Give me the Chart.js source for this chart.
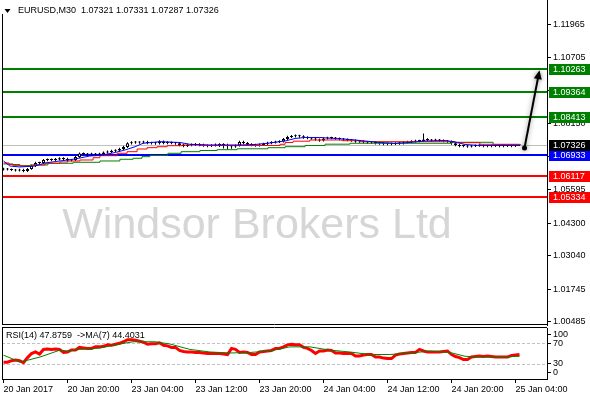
<!DOCTYPE html>
<html>
<head>
<meta charset="utf-8">
<script src="https://cdn.jsdelivr.net/npm/chart.js@4.4.1/dist/chart.umd.min.js"></script>
<style>
  html, body { margin: 0; padding: 0; background: #fff; }
  #wrap { position: relative; width: 590px; height: 400px; overflow: hidden; }
  canvas { position: absolute; left: 0; }
  #main { top: 0; }
  #osc { top: 326px; }
</style>
</head>
<body>
<div id="wrap">
  <canvas id="main" width="590" height="326"></canvas>
  <canvas id="osc" width="590" height="74"></canvas>
</div>
<script>
// EURUSD M30, 20 Jan 2017 12:00 -> 25 Jan 2017 04:30 (one entry per bar)
const symbolInfo = "EURUSD,M30  1.07321 1.07331 1.07287 1.07326";
const rsiInfo = "RSI(14) 47.8759  ->MA(7) 44.4031";
const watermark = "Windsor Brokers Ltd";

const timeTicks = [0, 16, 32, 48, 64, 80, 96, 112, 128];
const timeLabels = ["20 Jan 2017", "20 Jan 20:00", "23 Jan 04:00", "23 Jan 12:00", "23 Jan 20:00",
  "24 Jan 04:00", "24 Jan 12:00", "24 Jan 20:00", "25 Jan 04:00"];
const priceTicks = [1.11965, 1.10705, 1.09420, 1.08150, 1.06885, 1.05595, 1.04300, 1.03040, 1.01745, 1.00485];

const open = [1.0638,1.0640,1.0638,1.0636,1.0634,1.0636,1.0632,1.0640,1.0652,1.0663,
  1.0663,1.0675,1.0675,1.0675,1.0677,1.0681,1.0679,1.0673,1.0675,1.0686,
  1.0700,1.0698,1.0696,1.0698,1.0696,1.0698,1.0704,1.0706,1.0710,1.0711,
  1.0717,1.0725,1.0739,1.0742,1.0742,1.0742,1.0744,1.0740,1.0740,1.0739,
  1.0746,1.0740,1.0742,1.0740,1.0739,1.0733,1.0729,1.0733,1.0733,1.0735,
  1.0733,1.0731,1.0729,1.0731,1.0733,1.0735,1.0733,1.0729,1.0727,1.0731,
  1.0744,1.0740,1.0735,1.0733,1.0731,1.0733,1.0737,1.0740,1.0742,1.0744,
  1.0746,1.0756,1.0764,1.0766,1.0768,1.0766,1.0762,1.0760,1.0758,1.0754,
  1.0750,1.0758,1.0760,1.0760,1.0758,1.0756,1.0754,1.0752,1.0750,1.0746,
  1.0746,1.0744,1.0742,1.0742,1.0740,1.0739,1.0737,1.0737,1.0737,1.0739,
  1.0739,1.0742,1.0744,1.0746,1.0748,1.0748,1.0754,1.0752,1.0750,1.0752,
  1.0750,1.0748,1.0746,1.0739,1.0733,1.0729,1.0729,1.0727,1.0729,1.0731,
  1.0731,1.0729,1.0729,1.0729,1.0731,1.0729,1.0729,1.0731,1.0729,1.07321];
const high = [1.0645,1.0644,1.0642,1.0640,1.0641,1.0641,1.0644,1.0656,1.0668,1.0668,
  1.0679,1.0680,1.0680,1.0682,1.0685,1.0685,1.0683,1.0679,1.0690,1.0704,
  1.0704,1.0702,1.0703,1.0702,1.0703,1.0708,1.0711,1.0714,1.0716,1.0722,
  1.0730,1.0743,1.0747,1.0748,1.0747,1.0749,1.0749,1.0745,1.0744,1.0751,
  1.0750,1.0747,1.0746,1.0744,1.0743,1.0737,1.0737,1.0738,1.0740,1.0739,
  1.0737,1.0735,1.0736,1.0738,1.0739,1.0739,1.0737,1.0733,1.0735,1.0749,
  1.0749,1.0744,1.0739,1.0737,1.0738,1.0741,1.0745,1.0747,1.0749,1.0751,
  1.0760,1.0768,1.0771,1.0773,1.0772,1.0770,1.0766,1.0764,1.0762,1.0758,
  1.0762,1.0765,1.0765,1.0764,1.0762,1.0760,1.0758,1.0756,1.0754,1.0751,
  1.0750,1.0748,1.0747,1.0746,1.0744,1.0743,1.0742,1.0742,1.0743,1.0744,
  1.0747,1.0749,1.0751,1.0753,1.0753,1.0777,1.0759,1.0756,1.0757,1.0756,
  1.0754,1.0752,1.0750,1.0743,1.0737,1.0734,1.0733,1.0733,1.0735,1.0736,
  1.0735,1.0734,1.0734,1.0735,1.0735,1.0734,1.0735,1.0735,1.0736,1.07331];
const low = [1.0634,1.0634,1.0632,1.0630,1.0630,1.0627,1.0628,1.0637,1.0648,1.0658,
  1.0659,1.0670,1.0670,1.0671,1.0673,1.0674,1.0668,1.0669,1.0671,1.0682,
  1.0693,1.0691,1.0692,1.0691,1.0692,1.0694,1.0700,1.0702,1.0706,1.0707,
  1.0713,1.0721,1.0735,1.0737,1.0737,1.0738,1.0736,1.0735,1.0734,1.0735,
  1.0736,1.0736,1.0736,1.0734,1.0728,1.0724,1.0725,1.0728,1.0729,1.0728,
  1.0726,1.0724,1.0725,1.0727,1.0725,1.0719,1.0715,1.0718,1.0722,1.0727,
  1.0736,1.0730,1.0728,1.0726,1.0727,1.0729,1.0733,1.0736,1.0738,1.0740,
  1.0742,1.0752,1.0760,1.0762,1.0761,1.0757,1.0755,1.0753,1.0749,1.0745,
  1.0746,1.0754,1.0755,1.0753,1.0751,1.0749,1.0747,1.0745,1.0741,1.0741,
  1.0739,1.0737,1.0737,1.0735,1.0734,1.0732,1.0732,1.0732,1.0733,1.0734,
  1.0735,1.0738,1.0740,1.0742,1.0743,1.0744,1.0747,1.0745,1.0746,1.0745,
  1.0743,1.0741,1.0734,1.0728,1.0724,1.0724,1.0722,1.0723,1.0725,1.0726,
  1.0724,1.0724,1.0724,1.0725,1.0724,1.0724,1.0725,1.0724,1.0725,1.07287];
const close = [1.0640,1.0638,1.0636,1.0634,1.0636,1.0632,1.0640,1.0652,1.0663,1.0663,
  1.0675,1.0675,1.0675,1.0677,1.0681,1.0679,1.0673,1.0675,1.0686,1.0700,
  1.0698,1.0696,1.0698,1.0696,1.0698,1.0704,1.0706,1.0710,1.0711,1.0717,
  1.0725,1.0739,1.0742,1.0742,1.0742,1.0744,1.0740,1.0740,1.0739,1.0746,
  1.0740,1.0742,1.0740,1.0739,1.0733,1.0729,1.0733,1.0733,1.0735,1.0733,
  1.0731,1.0729,1.0731,1.0733,1.0735,1.0733,1.0729,1.0727,1.0731,1.0744,
  1.0740,1.0735,1.0733,1.0731,1.0733,1.0737,1.0740,1.0742,1.0744,1.0746,
  1.0756,1.0764,1.0766,1.0768,1.0766,1.0762,1.0760,1.0758,1.0754,1.0750,
  1.0758,1.0760,1.0760,1.0758,1.0756,1.0754,1.0752,1.0750,1.0746,1.0746,
  1.0744,1.0742,1.0742,1.0740,1.0739,1.0737,1.0737,1.0737,1.0739,1.0739,
  1.0742,1.0744,1.0746,1.0748,1.0748,1.0754,1.0752,1.0750,1.0752,1.0750,
  1.0748,1.0746,1.0739,1.0733,1.0729,1.0729,1.0727,1.0729,1.0731,1.0731,
  1.0729,1.0729,1.0729,1.0731,1.0729,1.0729,1.0731,1.0729,1.0731,1.07326];

// moving averages (bar index, price)
const blueIdx = [0,1.6,4.1,7.9,10.4,14.1,17.9,21.6,24.1,27.9,30.4,32.9,34.9,39.1,44.1,46.6,51.6,59.1,
  62.9,66.6,70.4,72.9,75.4,79.1,82.9,86.6,90.4,94.1,97.9,101.6,105.4,110.4,112.9,115.4,119.1,129];
const blueVal = [1.06709,1.06515,1.06477,1.06515,1.06631,1.06709,1.06786,1.06902,1.06921,1.07037,
  1.07134,1.07261,1.07393,1.07455,1.07424,1.07354,1.07327,1.07327,1.07346,1.07404,
  1.07482,1.07578,1.07617,1.07617,1.07578,1.07540,1.07482,1.07424,1.07385,1.07424,
  1.07482,1.07501,1.07443,1.07346,1.07308,1.07308];
const redIdx = [0,1.4,4.1,7.4,10.4,14.1,16.1,19.1,22.4,24.1,28.4,30.9,33.4,35.9,38.4,40.9,44.6,49.1,
  69.1,70.4,72.4,76.6,84.6,89.1,112.9,119.1,129];
const redVal = [1.06631,1.06573,1.06515,1.06554,1.06620,1.06670,1.06709,1.06747,1.06836,1.06913,
  1.07006,1.07068,1.07172,1.07223,1.07261,1.07300,1.07327,1.07308,1.07354,1.07424,
  1.07474,1.07520,1.07493,1.07455,1.07416,1.07354,1.07354];
const greenIdx = [0,2.4,6.6,11.1,17.4,24.1,29.1,32.4,34.6,36.6,41.1,44.4,49.1,53.4,58.4,66.1,70.4,
  75.4,80.4,86.6,112.1,122.4,129];
const greenVal = [1.06593,1.06527,1.06554,1.06620,1.06658,1.06709,1.06774,1.06813,1.06875,1.06921,
  1.07006,1.07068,1.07114,1.07145,1.07180,1.07223,1.07261,1.07308,1.07358,1.07393,
  1.07431,1.07346,1.07346];

const levels = [1.10263, 1.09364, 1.08413, 1.06933, 1.06117, 1.05334];
const levelColors = ["#008000", "#008000", "#008000", "#0000ff", "#ff0000", "#ff0000"];
const lastPrice = 1.07326;
const arrowFrom = [130.25, 1.0721];
const arrowTo = [134, 1.1022];

const rsi = [33,33,36,37,36,32,42,50,53,49,
  58,59,58,59,58,52,53,57,57,62,
  61,60,60,63,63,64,67,66,68,70,
  73,77,77,76,74,72,68,69,69,71,
  66,65,62,62,56,54,53,53,52,52,
  51,50,50,50,50,49,48,60,58,52,
  53,52,48,48,53,54,55,56,60,60,
  63,67,68,67,67,62,60,56,50,55,
  55,57,56,51,51,50,50,50,45,45,
  47,48,48,43,43,41,40,40,47,49,
  50,51,52,52,58,55,53,53,53,53,
  54,55,48,44,42,38,38,43,44,45,
  44,45,44,43,43,43,43,46,47,47.8759];
const rsiMaIdx = [0,2.1,4.1,9.1,14.1,15.9,19.1,24.1,29.1,32.4,37.9,41.6,46.6,51.6,56.6,61.6,66.6,
  71.6,76.6,81.6,86.6,91.6,96.6,101.6,106.6,111.6,115.4,119.1,129];
const rsiMaVal = [46.6,40,33,43,56.6,55,58,60.6,68.6,73,73,68.6,58,53,51,52,55,
  63,63,56.6,53,48,48,51,54.6,52,44.6,43,44.4031];
const rsiLevels = [70, 30];
const rsiTicks = [13, 30, 70, 88];
const rsiTickLabels = ["0", "30", "70", "100"];

const FONT = "'Liberation Sans', Arial, sans-serif";
Chart.defaults.font.family = FONT;
Chart.defaults.font.size = 9;
Chart.defaults.color = "#000";

const pts = (xs, ys) => xs.map((x, i) => ({x: x, y: ys[i]}));
const bodyColors = close.map((c, i) => (c >= open[i] ? "#ffffff" : "#000000"));

const mainDecor = {
  id: "mainDecor",
  beforeDatasetsDraw(chart) {
    const {ctx, chartArea: a, scales: {y}} = chart;
    ctx.save();
    ctx.beginPath();
    ctx.rect(a.left, a.top, a.right - a.left, a.bottom - a.top);
    ctx.clip();
    ctx.fillStyle = "#d6d6d6";
    ctx.font = "43px " + FONT;
    ctx.textAlign = "center";
    ctx.textBaseline = "alphabetic";
    ctx.fillText(watermark, 257, 238);

    const py = Math.round(y.getPixelForValue(lastPrice)) + 0.5;
    ctx.strokeStyle = "#c0c0c0";
    ctx.lineWidth = 1;
    ctx.beginPath();
    ctx.moveTo(a.left, py);
    ctx.lineTo(a.right, py);
    ctx.stroke();

    levels.forEach((v, i) => {
      const ly = Math.round(y.getPixelForValue(v));
      ctx.strokeStyle = levelColors[i];
      ctx.lineWidth = 2;
      ctx.beginPath();
      ctx.moveTo(a.left, ly);
      ctx.lineTo(a.right, ly);
      ctx.stroke();
    });
    ctx.restore();
  },
  afterDatasetsDraw(chart) {
    const {ctx, scales: {x, y}} = chart;
    const x0 = x.getPixelForValue(arrowFrom[0]), y0 = y.getPixelForValue(arrowFrom[1]);
    const x1 = x.getPixelForValue(arrowTo[0]), y1 = y.getPixelForValue(arrowTo[1]);
    const len = Math.hypot(x1 - x0, y1 - y0);
    const ux = (x1 - x0) / len, uy = (y1 - y0) / len;
    ctx.save();
    ctx.shadowColor = "rgba(0,0,0,0.45)";
    ctx.shadowBlur = 5;
    ctx.strokeStyle = "#000";
    ctx.fillStyle = "#000";
    ctx.lineWidth = 2;
    ctx.beginPath();
    ctx.moveTo(x0, y0);
    ctx.lineTo(x1 - ux * 6, y1 - uy * 6);
    ctx.stroke();
    ctx.beginPath();
    ctx.moveTo(x1, y1);
    ctx.lineTo(x1 - ux * 9 - uy * 4, y1 - uy * 9 + ux * 4);
    ctx.lineTo(x1 - ux * 9 + uy * 4, y1 - uy * 9 - ux * 4);
    ctx.closePath();
    ctx.fill();
    ctx.beginPath();
    ctx.arc(x0, y0, 2.5, 0, Math.PI * 2);
    ctx.fill();
    ctx.restore();
  },
  afterDraw(chart) {
    const {ctx, chartArea: a, scales: {y}} = chart;
    ctx.save();
    // price tags on the axis
    ctx.font = "9px " + FONT;
    ctx.textBaseline = "middle";
    ctx.textAlign = "left";
    const tag = (v, col) => {
      const ty = Math.round(y.getPixelForValue(v));
      ctx.fillStyle = col;
      ctx.fillRect(549, ty - 5, 41, 11);
      ctx.fillStyle = "#fff";
      ctx.fillText(v.toFixed(5), 553, ty + 0.5);
    };
    levels.forEach((v, i) => tag(v, levelColors[i]));
    tag(lastPrice, "#000");

    // frame
    ctx.strokeStyle = "#000";
    ctx.lineWidth = 1;
    ctx.beginPath();
    ctx.moveTo(a.left + 0.5, 14);
    ctx.lineTo(a.left + 0.5, a.bottom);
    ctx.moveTo(a.left, a.bottom - 0.5);
    ctx.lineTo(a.right, a.bottom - 0.5);
    ctx.stroke();

    // header
    ctx.fillStyle = "#000";
    ctx.beginPath();
    ctx.moveTo(4.5, 9);
    ctx.lineTo(10.5, 9);
    ctx.lineTo(7.5, 13);
    ctx.closePath();
    ctx.fill();
    ctx.fillText(symbolInfo, 18, 11);
    ctx.restore();
  }
};

new Chart(document.getElementById("main"), {
  type: "bar",
  data: {
    datasets: [
      {type: "line", data: pts(blueIdx, blueVal), borderColor: "#0000ff", borderWidth: 1,
        pointRadius: 0, tension: 0, order: 0},
      {type: "line", data: pts(redIdx, redVal), borderColor: "#ff0000", borderWidth: 1,
        pointRadius: 0, stepped: true, order: 0},
      {type: "line", data: pts(greenIdx, greenVal), borderColor: "#008000", borderWidth: 1,
        pointRadius: 0, stepped: true, order: 0},
      {type: "bar", data: open.map((o, i) => ({x: i, y: [o, close[i]]})), stack: "candle",
        backgroundColor: bodyColors, borderColor: "#000", borderWidth: 1, borderSkipped: false,
        barThickness: 3, minBarLength: 1, inflateAmount: 0, order: 1},
      {type: "bar", data: low.map((l, i) => ({x: i, y: [l, high[i]]})), stack: "candle",
        backgroundColor: "#000", borderWidth: 0, barThickness: 1, inflateAmount: 0, order: 2}
    ]
  },
  options: {
    responsive: false,
    animation: false,
    events: [],
    layout: {padding: {left: 2, top: 0, right: 0, bottom: 1}},
    plugins: {legend: {display: false}, tooltip: {enabled: false}},
    scales: {
      x: {type: "linear", min: -0.375, max: 135.875, offset: false, display: false,
        grid: {offset: false}},
      y: {
        type: "linear", position: "right", min: 1.00369, max: 1.12931, stacked: false,
        afterBuildTicks: s => { s.ticks = priceTicks.map(v => ({value: v})); },
        afterFit: s => { s.width = 43; s.paddingTop = 0; s.paddingBottom = 0; },
        ticks: {callback: v => v.toFixed(5), padding: 2, autoSkip: false},
        grid: {drawOnChartArea: false, tickLength: 4, color: "#000"},
        border: {color: "#000"}
      }
    }
  },
  plugins: [mainDecor]
});

const oscDecor = {
  id: "oscDecor",
  beforeDatasetsDraw(chart) {
    const {ctx, chartArea: a, scales: {y}} = chart;
    ctx.save();
    ctx.strokeStyle = "#c0c0c0";
    ctx.lineWidth = 1;
    ctx.setLineDash([3, 2]);
    rsiLevels.forEach(v => {
      const ly = Math.round(y.getPixelForValue(v)) + 0.5;
      ctx.beginPath();
      ctx.moveTo(a.left, ly);
      ctx.lineTo(a.right, ly);
      ctx.stroke();
    });
    ctx.restore();
  },
  afterDraw(chart) {
    const {ctx, chartArea: a} = chart;
    ctx.save();
    ctx.strokeStyle = "#000";
    ctx.lineWidth = 1;
    ctx.beginPath();
    ctx.moveTo(a.left, 1.5);
    ctx.lineTo(a.right, 1.5);
    ctx.moveTo(a.left + 0.5, 1.5);
    ctx.lineTo(a.left + 0.5, a.bottom);
    ctx.stroke();
    ctx.fillStyle = "#000";
    ctx.font = "9px " + FONT;
    ctx.textBaseline = "middle";
    ctx.fillText(rsiInfo, 6, 10);
    ctx.restore();
  }
};

new Chart(document.getElementById("osc"), {
  type: "line",
  data: {
    datasets: [
      {data: pts(rsiMaIdx, rsiMaVal), borderColor: "#008000", borderWidth: 1, pointRadius: 0, order: 0},
      {data: rsi.map((v, i) => ({x: i, y: v})), borderColor: "#ff0000", borderWidth: 3,
        pointRadius: 0, order: 1}
    ]
  },
  options: {
    responsive: false,
    animation: false,
    events: [],
    layout: {padding: {left: 2, top: 2, right: 0, bottom: 0}},
    plugins: {legend: {display: false}, tooltip: {enabled: false}},
    scales: {
      x: {
        type: "linear", min: -0.375, max: 135.875, offset: false,
        afterBuildTicks: s => { s.ticks = timeTicks.map(v => ({value: v})); },
        afterFit: s => { s.height = 21; s.paddingLeft = 0; s.paddingRight = 0; },
        ticks: {callback: (v, i) => timeLabels[i], align: "start", autoSkip: false, maxRotation: 0, padding: 1},
        grid: {drawOnChartArea: false, tickLength: 4, color: "#000"},
        border: {color: "#000"}
      },
      y: {
        type: "linear", position: "right", min: 0, max: 100,
        afterBuildTicks: s => { s.ticks = rsiTicks.map(v => ({value: v})); },
        afterFit: s => { s.width = 43; s.paddingTop = 0; s.paddingBottom = 0; },
        ticks: {callback: (v, i) => rsiTickLabels[i], padding: 2, autoSkip: false},
        grid: {drawOnChartArea: false, tickLength: 4, color: "#000"},
        border: {color: "#000"}
      }
    }
  },
  plugins: [oscDecor]
});
</script>
</body>
</html>
